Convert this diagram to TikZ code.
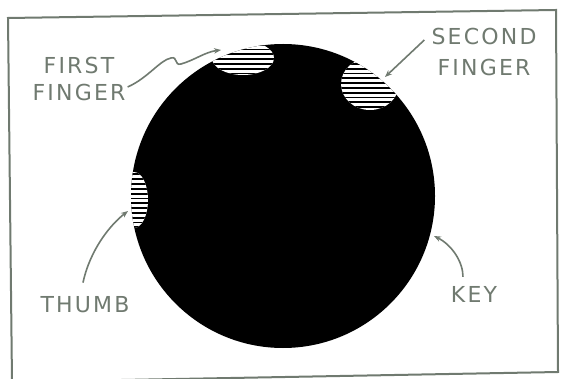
\documentclass[tikz,border=0pt]{standalone}
\usepackage{fontspec}
\setmainfont{DejaVu Sans}[LetterSpace=10]
\usetikzlibrary{arrows.meta,calc}
\definecolor{ink}{RGB}{112,122,112}
\tikzset{
  lbl/.style={text=ink,font=\fontsize{22}{27}\selectfont,inner sep=0pt,align=center},
  leader/.style={draw=ink,line width=1.6pt,-{Stealth[length=7pt,width=5.5pt]}},
  frame/.style={draw=ink,line width=2pt},
  hatchline/.style={draw=black,line width=1.8pt}
}
\newcommand{\hatchzone}[4]{%
  \begin{scope}
    \clip (283,196) circle (152);
    \clip (#1,#2) ellipse (#3 and #4);
    \fill[white] (#1-#3-2,#2-#4-2) rectangle (#1+#3+2,#2+#4+2);
    \foreach \k in {0,...,80} {\draw[hatchline] (#1-#3-2,{40+4.8*\k}) -- (#1+#3+2,{40+4.8*\k});}
  \end{scope}}
\begin{document}
\begin{tikzpicture}[x=1pt,y=-1pt]
\useasboundingbox (0,0) rectangle (561,379);
\fill[white] (0,0) rectangle (561,379);
\draw[frame] (8,18) -- (556,10) -- (558,372) -- (12,382) -- cycle;
\node[circle,fill=black,minimum size=304pt,inner sep=0pt] (disk) at (283,196) {};
\hatchzone{243}{58}{31}{17}
\hatchzone{370}{84}{29}{26}
\hatchzone{134}{200}{14}{28}
\node[lbl] (ff) at (79,79) {FIRST\\FINGER};
\node[lbl,font=\fontsize{22}{31}\selectfont] (sf) at (484,52) {SECOND\\FINGER};
\node[lbl] (th) at (85,305) {THUMB};
\node[lbl] (ky) at (474,294) {KEY};
\coordinate (fftip) at (221,50);
\coordinate (sftip) at (385,77);
\coordinate (thtip) at (128,211);
\coordinate (kytip) at (434,236);
\draw[leader] ($(ff.east)+(2,8)$) .. controls (148,78) and (160,60) .. (171,58)
  .. controls (178,56) and (174,66) .. (181,64) .. controls (195,60) and (205,52) .. (fftip);
\draw[leader] ($(sf.west)+(-7,-12)$) -- (sftip);
\draw[leader] ($(th.north)+(-2,-14)$) .. controls (90,250) and (110,225) .. (thtip);
\draw[leader] ($(ky.north)+(-11,-9)$) .. controls (463,262) and (452,245) .. (kytip);
\end{tikzpicture}
\end{document}
